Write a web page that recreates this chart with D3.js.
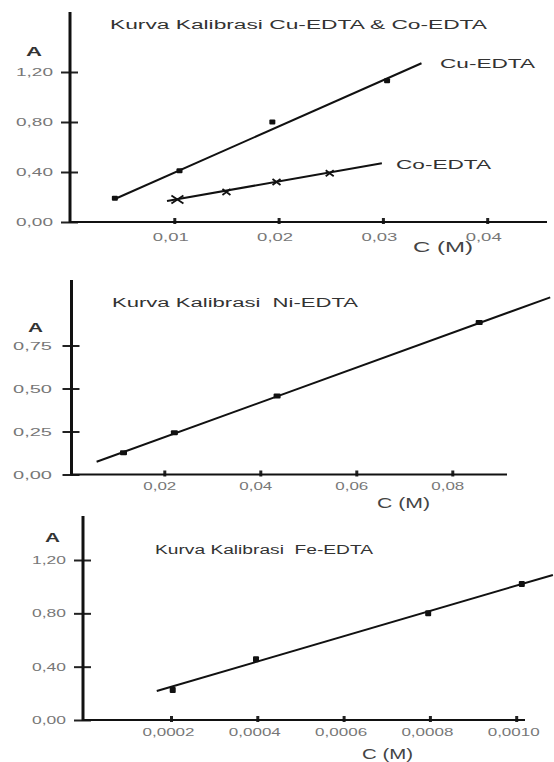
<!DOCTYPE html>
<html><head><meta charset="utf-8">
<script src="https://cdn.jsdelivr.net/npm/d3@7"></script>
<style>html,body{margin:0;padding:0;background:#fff}svg{display:block}</style>
</head><body>
<svg id="chart" width="554" height="762"></svg>
<script>
// ---------- data ----------
const cuC = [0.0043, 0.0105, 0.0194, 0.0304];
const cuA = [0.19, 0.41, 0.80, 1.13];
const cuFitC = [0.0043, 0.0337];
const cuFitA = [0.184, 1.27];
const coC = [0.0103, 0.0150, 0.0198, 0.0249];
const coA = [0.18, 0.24, 0.32, 0.39];
const coFitC = [0.0093, 0.0299];
const coFitA = [0.168, 0.47];
const niC = [0.0115, 0.0221, 0.0435, 0.0856];
const niA = [0.127, 0.243, 0.456, 0.883];
const niFitC = [0.0059, 0.1004];
const niFitA = [0.074, 1.03];
const feC = [0.000204, 0.000397, 0.000796, 0.001013];
const feA = [0.225, 0.455, 0.80, 1.02];
const feFitC = [0.000167, 0.001085];
const feFitA = [0.2175, 1.088];

const p1YTicks = [0, 0.4, 0.8, 1.2];
const p1YLabels = ["0,00", "0,40", "0,80", "1,20"];
const p1XTicks = [0.01, 0.02, 0.03, 0.04];
const p1XLabels = ["0,01", "0,02", "0,03", "0,04"];
const p2YTicks = [0, 0.25, 0.5, 0.75];
const p2YLabels = ["0,00", "0,25", "0,50", "0,75"];
const p2XTicks = [0.02, 0.04, 0.06, 0.08];
const p2XLabels = ["0,02", "0,04", "0,06", "0,08"];
const p3YTicks = [0, 0.4, 0.8, 1.2];
const p3YLabels = ["0,00", "0,40", "0,80", "1,20"];
const p3XTicks = [0.0002, 0.0004, 0.0006, 0.0008, 0.0010];
const p3XLabels = ["0,0002", "0,0004", "0,0006", "0,0008", "0,0010"];

const titles = ["Kurva Kalibrasi Cu-EDTA & Co-EDTA", "Kurva Kalibrasi\u00a0\u00a0Ni-EDTA", "Kurva Kalibrasi\u00a0\u00a0Fe-EDTA"];
const seriesNames = ["Cu-EDTA", "Co-EDTA"];

// ---------- drawing ----------
const svg = d3.select("#chart");
svg.append("rect").attr("width", 554).attr("height", 762).attr("fill", "#fff");
const FONT = "'Liberation Sans', Arial, sans-serif";

function stretchText(sel, w) {
  sel.attr("textLength", w).attr("lengthAdjust", "spacingAndGlyphs");
}
function label(txt, x, y, w, size, color, weight) {
  const t = svg.append("text").attr("x", x).attr("y", y).attr("dy", "0.35em")
    .attr("font-family", FONT).attr("font-size", size).attr("fill", color)
    .attr("font-weight", weight || "normal").text(txt);
  stretchText(t, w);
  return t;
}

function panel(cfg) {
  const x = cfg.x, y = cfg.y, y0 = y(0);
  // y axis
  const ya = d3.axisLeft(y).tickValues(cfg.yTicks).tickFormat((d, i) => cfg.yLabels[i])
    .tickSizeInner(9).tickSizeOuter(0).tickPadding(cfg.yPad - 9);
  const gy = svg.append("g").attr("transform", `translate(${cfg.axX},0)`).call(ya);
  gy.select(".domain").remove();
  gy.selectAll(".tick line").attr("x1", 8).attr("stroke", "#222").attr("stroke-width", 2);
  gy.selectAll(".tick text").attr("font-family", FONT).attr("font-size", 11).attr("fill", "#777")
    .each(function () { stretchText(d3.select(this), cfg.yLabelW); });
  // x axis
  const xa = d3.axisBottom(x).tickValues(cfg.xTicks).tickFormat((d, i) => cfg.xLabels[i])
    .tickSizeInner(2).tickSizeOuter(0);
  const gx = svg.append("g").attr("transform", `translate(0,${y0})`).call(xa);
  gx.select(".domain").remove();
  gx.selectAll(".tick line").attr("y1", -4).attr("y2", 2).attr("stroke", "#222").attr("stroke-width", 3);
  gx.selectAll(".tick text").attr("font-family", FONT).attr("font-size", 11).attr("fill", "#777")
    .attr("y", cfg.xLabelDy).attr("dy", "0.35em").attr("dx", cfg.xLabelDx)
    .each(function () { stretchText(d3.select(this), cfg.xLabelW); });
  // axis lines
  svg.append("line").attr("x1", cfg.axX).attr("x2", cfg.axX).attr("y1", cfg.yTop).attr("y2", y0 + 1)
    .attr("stroke", "#111").attr("stroke-width", 3);
  svg.append("line").attr("x1", cfg.axX).attr("x2", cfg.xEnd).attr("y1", y0).attr("y2", y0)
    .attr("stroke", "#111").attr("stroke-width", 2.2);
}

function fitLine(xs, ys, x, y) {
  const pts = xs.map((d, i) => [d, ys[i]]);
  svg.append("path").attr("d", d3.line().x(d => x(d[0])).y(d => y(d[1]))(pts))
    .attr("fill", "none").attr("stroke", "#111").attr("stroke-width", 2);
}
function squares(xs, ys, x, y, w, h) {
  svg.append("g").selectAll("rect").data(xs.map((d, i) => [d, ys[i]])).join("rect")
    .attr("x", d => x(d[0]) - w / 2).attr("y", d => y(d[1]) - h / 2)
    .attr("width", w).attr("height", h).attr("rx", 1).attr("fill", "#111");
}
function crosses(xs, ys, x, y) {
  svg.append("g").selectAll("path").data(xs.map((d, i) => [d, ys[i]])).join("path")
    .attr("transform", d => `translate(${x(d[0])},${y(d[1])})`)
    .attr("d", (d, i) => i === 0 ? "M-6,-4L6,4M-6,4L6,-4" : "M-4,-3L4,3M-4,3L4,-3")
    .attr("fill", "none").attr("stroke", "#111").attr("stroke-width", 1.8);
}

// Panel 1 : Cu-EDTA & Co-EDTA
const x1 = d3.scaleLinear().domain([0, 0.04]).range([70, 487.2]);
const y1 = d3.scaleLinear().domain([0, 1.2]).range([222, 72]);
panel({x: x1, y: y1, axX: 70, yTop: 12, xEnd: 547, yTicks: p1YTicks, yLabels: p1YLabels,
  xTicks: p1XTicks, xLabels: p1XLabels, yPad: 17, yLabelW: 37, xLabelW: 36, xLabelDy: 15, xLabelDx: -4});
fitLine(cuFitC, cuFitA, x1, y1);
fitLine(coFitC, coFitA, x1, y1);
squares(cuC, cuA, x1, y1, 6, 5);
crosses(coC, coA, x1, y1);
label(titles[0], 110, 25, 377, 12, "#333");
label(seriesNames[0], 440, 63, 95, 13, "#333");
label(seriesNames[1], 396, 164, 95, 13, "#333");
label("A", 26, 51, 16, 13, "#333", "bold");
label("C (M)", 413, 247.5, 60, 14, "#444");

// Panel 2 : Ni-EDTA
const x2 = d3.scaleLinear().domain([0, 0.08]).range([68.3, 452.3]);
const y2 = d3.scaleLinear().domain([0, 0.75]).range([474.5, 345.5]);
panel({x: x2, y: y2, axX: 71.5, yTop: 280, xEnd: 507, yTicks: p2YTicks, yLabels: p2YLabels,
  xTicks: p2XTicks, xLabels: p2XLabels, yPad: 19.5, yLabelW: 39, xLabelW: 33, xLabelDy: 12, xLabelDx: -5});
fitLine(niFitC, niFitA, x2, y2);
squares(niC, niA, x2, y2, 7, 5);
label(titles[1], 112, 303, 246, 12, "#333");
label("A", 28, 327, 15, 13, "#333", "bold");
label("C (M)", 377, 503, 53, 14, "#444");

// Panel 3 : Fe-EDTA
const x3 = d3.scaleLinear().domain([0, 0.001]).range([84.7, 516.2]);
const y3 = d3.scaleLinear().domain([0, 1.2]).range([720, 560]);
panel({x: x3, y: y3, axX: 83, yTop: 516, xEnd: 525, yTicks: p3YTicks, yLabels: p3YLabels,
  xTicks: p3XTicks, xLabels: p3XLabels, yPad: 17, yLabelW: 34, xLabelW: 52, xLabelDy: 12, xLabelDx: -3});
fitLine(feFitC, feFitA, x3, y3);
squares(feC, feA, x3, y3, 6, 6);
label(titles[2], 155, 550, 218, 12, "#333");
label("A", 45, 537, 15, 13, "#333", "bold");
label("C (M)", 362, 754, 51, 14, "#444");
</script>
</body></html>
